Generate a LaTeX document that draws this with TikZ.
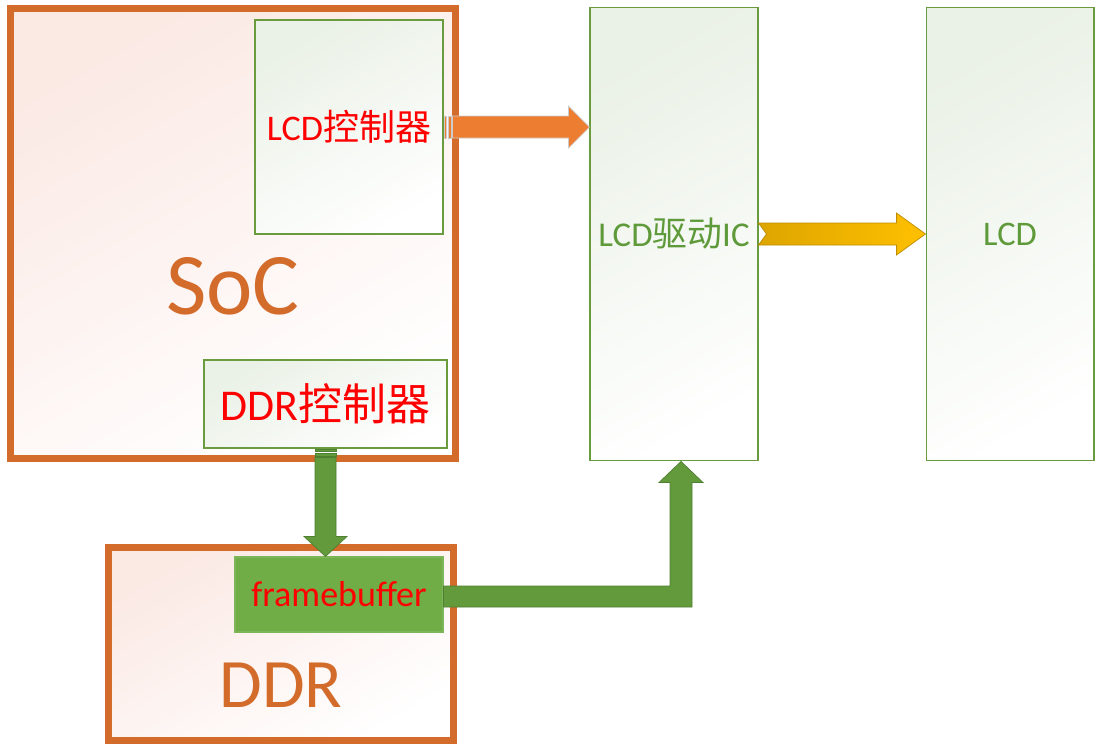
\documentclass[tikz,border=0pt]{standalone}
\usepackage{fontspec}
\setmainfont{Carlito}
\newfontfamily\cjk{Noto Sans CJK SC}
\usepackage{tikz}
\usetikzlibrary{positioning, calc}
\definecolor{socorange}{HTML}{D36B2B}
\definecolor{boxgreen}{HTML}{6A9B3E}
\definecolor{textgreen}{HTML}{5F9A3A}
\definecolor{fbgreen}{HTML}{70AD47}
\definecolor{arrgreen}{HTML}{629A3C}
\definecolor{arrgreenedge}{HTML}{4F7F30}
\definecolor{arrorange}{HTML}{ED7D31}
\definecolor{arryellow}{HTML}{FFC000}
\definecolor{arryellowdark}{HTML}{DDA500}
\definecolor{pinkbg}{HTML}{FBE9E4}
\definecolor{greenbg}{HTML}{EAF1E6}
\tikzset{
  chip/.style={
    draw=socorange, line width=0.14cm,
    top color=pinkbg, bottom color=white, shading angle=30
  },
  unit/.style={
    draw=boxgreen, line width=0.6pt,
    top color=greenbg, bottom color=white!97!greenbg, shading angle=30,
    align=center, inner sep=0pt
  },
  redtext/.style={text=red},
  bigtext/.style={text=socorange, inner sep=0pt}
}

\begin{document}
\begin{tikzpicture}[x=0.02cm, y=-0.02cm]
  \useasboundingbox (0,0) rectangle (1102,751);

  % SoC and its controllers
  \node[chip, minimum width=8.92cm, minimum height=9.02cm] (soc) at (233,233.5) {};
  \node[bigtext, font=\fontsize{50}{50}\selectfont] (soctext) at (233,286) {SoC};
  \node[unit, minimum width=3.76cm, minimum height=4.28cm, font=\fontsize{20.5}{21}\selectfont, redtext] (lcdc) at (349,127) {LCD{\cjk 控制器}};
  \node[unit, minimum width=4.86cm, minimum height=1.76cm, font=\fontsize{25}{26}\selectfont, redtext] (ddrc) at (325.5,404) {DDR{\cjk 控制器}};

  % DDR and framebuffer
  \node[chip, minimum width=6.92cm, minimum height=3.88cm] (ddr) at (281,644) {};
  \node[bigtext, font=\fontsize{39.5}{40}\selectfont] (ddrtext) at (281,685) {DDR};
  \node[draw=fbgreen!90!white, fill=fbgreen, line width=0.6pt, minimum width=4.16cm, minimum height=1.5cm,
        font=\fontsize{20.5}{21}\selectfont, redtext, inner sep=0pt] (fb) at (339,594.5) {framebuffer};

  % driver IC and panel
  \node[unit, minimum width=3.36cm, minimum height=9.08cm, font=\fontsize{19.8}{20}\selectfont, text=textgreen] (drv) at (674,234) {LCD{\cjk 驱动}IC};
  \node[unit, minimum width=3.36cm, minimum height=9.08cm, font=\fontsize{19.6}{20}\selectfont, text=textgreen] (lcd) at (1010,234) {LCD};

  % LCD controller -> driver IC
  \coordinate (oa) at (lcdc.east);
  \coordinate (ob) at (drv.west |- lcdc.east);
  \fill[arrorange, draw=gray!40, line width=0.4pt] ($(oa)+(1,-11)$) rectangle ($(oa)+(3,11)$);
  \fill[arrorange, draw=gray!40, line width=0.4pt] ($(oa)+(5,-11)$) rectangle ($(oa)+(8,11)$);
  \filldraw[fill=arrorange, draw=gray!40, line width=0.4pt]
    ($(oa)+(9,-11)$) -- ($(ob)+(-21,-11)$) -- ($(ob)+(-21,-21)$) -- (ob)
    -- ($(ob)+(-21,21)$) -- ($(ob)+(-21,11)$) -- ($(oa)+(9,11)$) -- cycle;

  % driver IC -> LCD
  \coordinate (ya) at (drv.east);
  \coordinate (yb) at (lcd.west);
  \shade[left color=arryellowdark, right color=arryellow, draw=arryellowdark!85!black, line width=0.4pt]
    ($(ya)+(0,-11)$) -- ($(yb)+(-29,-11)$) -- ($(yb)+(-29,-21)$) -- (yb)
    -- ($(yb)+(-29,21)$) -- ($(yb)+(-29,11)$) -- ($(ya)+(0,11)$) -- ($(ya)+(8,0)$) -- cycle;

  % DDR controller -> framebuffer
  \coordinate (ga) at (ddrc.south);
  \coordinate (gb) at (ga |- fb.north);
  \filldraw[fill=arrgreen, draw=arrgreenedge, line width=0.4pt] ($(ga)+(-10.5,0.5)$) rectangle ($(ga)+(10.5,3)$);
  \filldraw[fill=arrgreen, draw=arrgreenedge, line width=0.4pt] ($(ga)+(-10.5,4.5)$) rectangle ($(ga)+(10.5,7.5)$);
  \filldraw[fill=arrgreen, draw=arrgreenedge, line width=0.4pt]
    ($(ga)+(-10.5,9)$) -- ($(gb)+(-10.5,-20)$) -- ($(gb)+(-21.5,-20)$) -- (gb)
    -- ($(gb)+(21.5,-20)$) -- ($(gb)+(10.5,-20)$) -- ($(ga)+(10.5,9)$) -- cycle;

  % framebuffer -> driver IC
  \coordinate (fa) at ($(fb.east)+(0,2)$);
  \coordinate (fc) at ($(drv.south)+(7,0)$);
  \filldraw[fill=arrgreen, draw=arrgreenedge, line width=0.4pt]
    ($(fa)+(0,-10.5)$) -- ($(fc |- fa)+(-11,-10.5)$) -- ($(fc)+(-11,21)$) -- ($(fc)+(-22,21)$)
    -- (fc) -- ($(fc)+(22,21)$) -- ($(fc)+(11,21)$) -- ($(fc |- fa)+(11,10.5)$)
    -- ($(fa)+(0,10.5)$) -- cycle;
\end{tikzpicture}
\end{document}
